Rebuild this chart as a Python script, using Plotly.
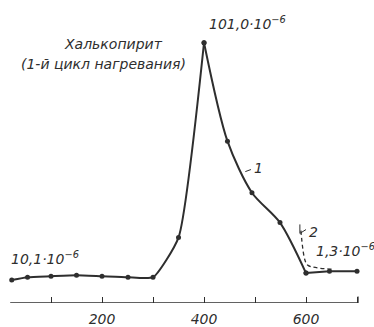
import plotly.graph_objects as go

# curve 1 (measured points), temperature in deg C, value in 1e-6 units
t_rise = [23, 54, 100, 150, 200, 251, 300, 350, 400]
v_rise = [8.9, 10.0, 10.4, 10.8, 10.4, 10.0, 10.0, 25.4, 101.0]
t_fall = [400, 446, 494, 549, 600, 646, 700]
v_fall = [101.0, 62.8, 42.8, 31.2, 11.6, 12.3, 12.3]
# curve 2 (dashed)
t_c2 = [590, 598, 604, 651]
v_c2 = [28.1, 16.6, 14.6, 13.1]

tick_vals = [100, 200, 300, 400, 500, 600, 700]
tick_text = ["", "200", "", "400", "", "600", ""]

INK = "#2e2e2e"
FONT = dict(family="DejaVu Sans", size=14, color=INK, style="italic")

fig = go.Figure()
fig.add_trace(go.Scatter(x=t_rise, y=v_rise, mode="lines+markers",
                         line=dict(color=INK, width=2, shape="spline", smoothing=0.5),
                         marker=dict(size=5, color=INK), showlegend=False))
fig.add_trace(go.Scatter(x=t_fall[:5], y=v_fall[:5], mode="lines+markers",
                         line=dict(color=INK, width=2, shape="spline", smoothing=0.8),
                         marker=dict(size=5, color=INK), showlegend=False))
fig.add_trace(go.Scatter(x=t_fall[4:], y=v_fall[4:], mode="lines+markers",
                         line=dict(color=INK, width=2),
                         marker=dict(size=5, color=INK), showlegend=False))
fig.add_trace(go.Scatter(x=t_c2, y=v_c2, mode="lines",
                         line=dict(color=INK, width=1.3, dash="4px,3px", shape="spline"),
                         showlegend=False))

# baseline axis line
fig.add_shape(type="line", x0=20, x1=702, y0=0, y1=0, xref="x", yref="y",
              line=dict(color=INK, width=1.5))
fig.add_shape(type="line", x0=702, x1=702, y0=0, y1=2.5, xref="x", yref="y",
              line=dict(color=INK, width=1.2))

ann = [
    dict(x=223, y=100.6, text="Халькопирит", xanchor="center"),
    dict(x=203, y=92.9, text="(1-й цикл нагревания)", xanchor="center"),
    dict(x=405, y=108.5, text="101,0·10<sup>−6</sup>", xanchor="left"),
    dict(x=18, y=17.5, text="10,1·10<sup>−6</sup>", xanchor="left"),
    dict(x=615, y=20.5, text="1,3·10<sup>−6</sup>", xanchor="left"),
    dict(x=506, y=52.5, text="1", xanchor="center"),
    dict(x=614, y=27.5, text="2", xanchor="center"),
    dict(x=676, y=-5.5, text="°C", xanchor="center"),
]
for a in ann:
    fig.add_annotation(xref="x", yref="y", showarrow=False, font=FONT, **a)

# leader marks for labels 1 and 2
fig.add_shape(type="line", x0=481, x1=492, y0=51.0, y1=51.8, line=dict(color=INK, width=1))
fig.add_shape(type="line", x0=588, x1=588, y0=30.5, y1=27.0, line=dict(color=INK, width=1))
fig.add_shape(type="line", x0=588, x1=600, y0=27.0, y1=28.5, line=dict(color=INK, width=1))

fig.update_layout(
    width=374, height=327,
    margin=dict(l=0, r=0, t=0, b=22),
    paper_bgcolor="white", plot_bgcolor="white",
    font=FONT,
    xaxis=dict(range=[0, 733.3], showgrid=False, zeroline=False, showline=False,
               tickmode="array", tickvals=tick_vals, ticktext=tick_text,
               ticks="inside", ticklen=6, tickcolor=INK, tickwidth=1,
               ticklabelstandoff=6,
               tickfont=dict(family="DejaVu Sans", size=14, color=INK, style="italic")),
    yaxis=dict(range=[0, 117.6], visible=False),
)

fig.write_html("out.html")
